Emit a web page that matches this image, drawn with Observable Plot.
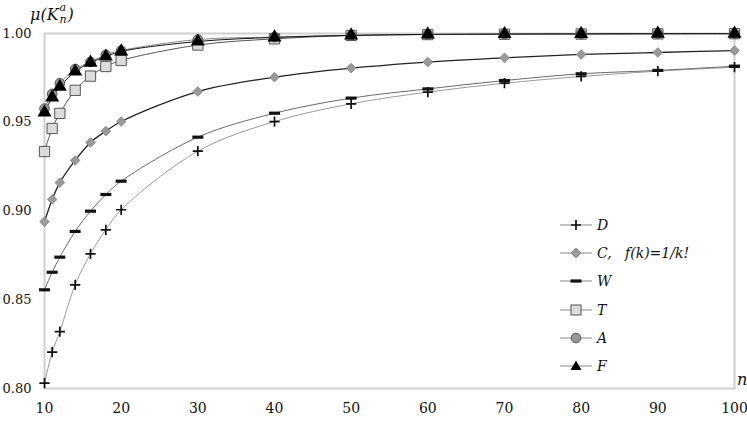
<!DOCTYPE html>
<html><head><meta charset="utf-8">
<script src="https://cdn.jsdelivr.net/npm/d3@7"></script>
<script src="https://cdn.jsdelivr.net/npm/@observablehq/plot@0.6"></script>
<style>
body{margin:0;background:#fff;}
#wrap{position:relative;width:747px;height:422px;font-family:"DejaVu Serif",serif;}
.lab{position:absolute;font-style:italic;font-family:"DejaVu Serif",serif;color:#111;white-space:nowrap;}
#legend{position:absolute;left:560px;top:215px;font-family:"DejaVu Serif",serif;}
.li{position:absolute;left:0;height:20px;display:flex;align-items:center;white-space:nowrap;font-style:italic;font-size:14px;color:#111;}
.li svg{margin-right:5px;}
</style></head><body>
<div id="wrap"></div>
<script>
const ns = [10,11,12,14,16,18,20,30,40,50,60,70,80,90,100];
const seriesD = [0.803,0.8205,0.832,0.8584,0.8759,0.8894,0.9007,0.9337,0.9504,0.9604,0.967,0.972,0.9758,0.9788,0.981];
const seriesC = [0.894,0.9065,0.916,0.9285,0.9386,0.945,0.9504,0.9673,0.9754,0.9805,0.9839,0.9863,0.9882,0.9893,0.9904];
const seriesW = [0.8556,0.8655,0.874,0.8885,0.8999,0.9093,0.9168,0.9416,0.9551,0.9636,0.9688,0.9735,0.9773,0.9792,0.9816];
const seriesT = [0.9335,0.9465,0.955,0.968,0.976,0.9814,0.9848,0.9935,0.997,0.9989,0.9994,0.9996,0.9997,0.9998,0.9999];
const seriesA = [0.9577,0.966,0.972,0.980,0.984,0.988,0.9904,0.9966,0.998,0.999,0.9995,0.9997,0.9998,0.9999,0.9999];
const seriesF = [0.9555,0.964,0.970,0.9786,0.9836,0.987,0.9899,0.9955,0.9978,0.9989,0.9995,0.9997,0.9998,0.9999,0.9999];
const xTicks = [10,20,30,40,50,60,70,80,90,100];
const yTicks = [0.80,0.85,0.90,0.95,1.00];
const FONT = "DejaVu Serif, serif";

const dash = {draw(ctx, size){ ctx.rect(-5.5,-1.6,11,3.2); }};

const styles = {
  D:{values:seriesD, line:"#9a9a9a", lw:1, symbol:"plus", fill:"none", stroke:"#111", sw:1.7, r:3.4},
  W:{values:seriesW, line:"#6a6a6a", lw:1, symbol:dash, fill:"#111", stroke:"none", sw:0, r:5},
  C:{values:seriesC, line:"#222", lw:1.3, symbol:"diamond2", fill:"#9a9a9a", stroke:"#8a8a8a", sw:1, r:4.3},
  T:{values:seriesT, line:"#555", lw:1, symbol:"square", fill:"#dcdcdc", stroke:"#555", sw:1, r:5.8},
  A:{values:seriesA, line:"#888", lw:1, symbol:"circle", fill:"#999", stroke:"#555", sw:1, r:4.8},
  F:{values:seriesF, line:"#111", lw:1, symbol:"triangle", fill:"#000", stroke:"none", sw:0, r:5.2}
};
const order = ["D","W","C","T","A","F"];
const marks = [Plot.frame({stroke:"#d0d0d0", strokeWidth:2})];
for (const k of order) {
  const s = styles[k];
  const data = ns.map((n,i)=>({n, v:s.values[i]}));
  marks.push(Plot.line(data,{x:"n",y:"v",stroke:s.line,strokeWidth:s.lw,curve:"catmull-rom"}));
}
for (const k of order) {
  const s = styles[k];
  const data = ns.map((n,i)=>({n, v:s.values[i]}));
  marks.push(Plot.dot(data,{x:"n",y:"v",symbol:()=>s.symbol,fill:s.fill,stroke:s.stroke,strokeWidth:s.sw,r:s.r}));
}
marks.push(Plot.axisX({ticks:xTicks, tickSize:0, tickPadding:15, fontSize:14, fontFamily:FONT, fill:"#111", label:null}));
marks.push(Plot.axisY({ticks:yTicks, tickSize:0, tickPadding:13, fontSize:13, fontFamily:FONT, fill:"#111", label:null, tickFormat:d3.format(".2f")}));

const chart = Plot.plot({
  width:747, height:422,
  marginLeft:44, marginRight:13, marginTop:33, marginBottom:34,
  style:{fontFamily:FONT, fontSize:"14px", background:"#fff", overflow:"visible"},
  x:{domain:[10,100], label:null},
  y:{domain:[0.80,1.00], label:null},
  symbol:{type:"identity"},
  marks
});
const wrap = document.getElementById("wrap");
wrap.appendChild(chart);

// axis titles
const yl = document.createElement("div");
yl.className="lab";
yl.style.left="30px"; yl.style.top="5px"; yl.style.fontSize="16px";
yl.innerHTML = 'μ(K<span style="display:inline-block;vertical-align:-2px;line-height:1;position:relative;width:9px;height:10px;"><span style="position:absolute;left:1px;top:-10px;font-size:11px;">a</span><span style="position:absolute;left:1px;top:2px;font-size:11px;">n</span></span>)';
wrap.appendChild(yl);
const xl = document.createElement("div");
xl.className="lab"; xl.style.left="737px"; xl.style.top="370px"; xl.style.fontSize="16px";
xl.textContent="n";
wrap.appendChild(xl);

// legend
const legendItems = [
  {key:"D", label:"D"},
  {key:"C", label:"C,&nbsp;&nbsp; f(k)=1/k!"},
  {key:"W", label:"W"},
  {key:"T", label:"T"},
  {key:"A", label:"A"},
  {key:"F", label:"F"}
];
const leg = document.createElement("div"); leg.id="legend";
legendItems.forEach((it,i)=>{
  const row = document.createElement("div"); row.className="li";
  row.style.top = (i*28.2) + "px";
  let shape = "";
  const cx=16, cy=10;
  if (it.key==="D") shape = `<path d="M${cx-5},${cy}h10M${cx},${cy-5}v10" stroke="#111" stroke-width="1.7"/>`;
  if (it.key==="C") shape = `<path d="M${cx},${cy-5}l5,5l-5,5l-5,-5z" fill="#9a9a9a" stroke="#8a8a8a"/>`;
  if (it.key==="W") shape = `<rect x="${cx-5.5}" y="${cy-1.6}" width="11" height="3.2" fill="#111"/>`;
  if (it.key==="T") shape = `<rect x="${cx-5}" y="${cy-5}" width="10" height="10" fill="#dcdcdc" stroke="#555"/>`;
  if (it.key==="A") shape = `<circle cx="${cx}" cy="${cy}" r="4.8" fill="#999" stroke="#555"/>`;
  if (it.key==="F") shape = `<path d="M${cx},${cy-5.5}l5.5,9.5h-11z" fill="#000"/>`;
  row.innerHTML = `<svg width="32" height="20"><line x1="0" x2="32" y1="10" y2="10" stroke="#999" stroke-width="1.2"/>${shape}</svg><span>${it.label}</span>`;
  leg.appendChild(row);
});
wrap.appendChild(leg);
</script>
</body></html>
